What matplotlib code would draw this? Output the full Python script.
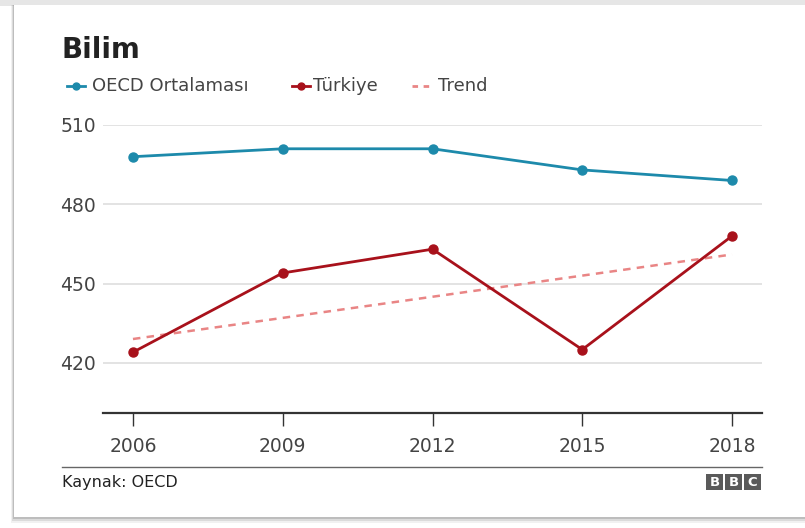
import matplotlib
matplotlib.use("Agg")
import matplotlib.pyplot as plt
from matplotlib.patches import Rectangle
from matplotlib.lines import Line2D

# --- data -------------------------------------------------------------------
years = [2006, 2009, 2012, 2015, 2018]
oecd = [498, 501, 501, 493, 489]
turkiye = [424, 454, 463, 425, 468]
trend_years = [2006, 2018]
trend = [429, 461]
y_ticks = [420, 450, 480, 510]

TEAL = "#1d8aab"
RED = "#a8111b"
TREND = "#e98585"
GREY_TXT = "#444444"

W, H = 805, 528
fig = plt.figure(figsize=(W / 100, H / 100), dpi=100)
fig.patch.set_facecolor("white")


def fx(px):
    return px / W


def fy(py):
    return 1 - py / H


# card with soft shadow
fig.patches.append(Rectangle((0, fy(6)), 1, fy(0) - fy(6), transform=fig.transFigure,
                             facecolor="#e6e6e6", edgecolor="none", zorder=0))
for off, alpha in [(6, 0.10), (4, 0.18), (2, 0.30)]:
    fig.patches.append(Rectangle((fx(14 - off / 2), fy(517 + off)), fx(W), fy(5) - fy(517 + off),
                                 transform=fig.transFigure, facecolor="#7a7a7a",
                                 alpha=alpha, edgecolor="none", zorder=0))
fig.patches.append(Rectangle((fx(14), fy(517)), fx(W), fy(5) - fy(517),
                             transform=fig.transFigure, facecolor="white",
                             edgecolor="none", zorder=1))

ax = fig.add_axes([fx(103), fy(413), fx(762) - fx(103), fy(125) - fy(413)])
ax.set_facecolor("none")
ax.set_zorder(2)

ax.plot(years, oecd, color=TEAL, lw=2, marker="o", ms=6.5, clip_on=False, zorder=3)
ax.plot(years, turkiye, color=RED, lw=2, marker="o", ms=6.5, clip_on=False, zorder=3)
ax.plot(trend_years, trend, color=TREND, lw=1.8, ls=(0, (3, 2.5)), zorder=2)

ax.set_xlim(2005.4, 2018.6)
ax.set_ylim(401, 510)
ax.set_xticks(years)
ax.set_yticks(y_ticks)
ax.grid(axis="y", color="#dedede", lw=1.2)
ax.set_axisbelow(True)
for side in ("left", "right", "top"):
    ax.spines[side].set_visible(False)
ax.spines["bottom"].set_color("#333333")
ax.spines["bottom"].set_linewidth(1.6)
ax.tick_params(axis="x", direction="out", length=9, width=1, color="#333333",
               labelsize=13.5, labelcolor=GREY_TXT, pad=8)
ax.tick_params(axis="y", length=0, labelsize=13.5, labelcolor=GREY_TXT, pad=5)

# title
fig.text(fx(62), fy(50), "Bilim", fontsize=20, fontweight="bold", color="#222222",
         va="center", ha="left", zorder=5)

# legend, placed by hand to follow the original spacing
legend_items = [
    ("OECD Ortalaması", TEAL, "-", "o", 67, 92),
    ("Türkiye", RED, "-", "o", 292, 313),
    ("Trend", TREND, (0, (2, 2)), None, 412, 438),
]
for label, color, ls, marker, x0, xt in legend_items:
    fig.add_artist(Line2D([fx(x0), fx(x0 + 18)], [fy(86), fy(86)], color=color, lw=2,
                          ls=ls, transform=fig.transFigure, zorder=5))
    if marker:
        fig.add_artist(Line2D([fx(x0 + 9)], [fy(86)], color=color, marker=marker, ms=5,
                              transform=fig.transFigure, zorder=6))
    fig.text(fx(xt), fy(86), label, fontsize=13, color=GREY_TXT, va="center",
             ha="left", zorder=5)

# footer
fig.add_artist(Line2D([fx(62), fx(762)], [fy(467), fy(467)], color="#666666", lw=1,
                      transform=fig.transFigure, zorder=5))
fig.text(fx(62), fy(482), "Kaynak: OECD", fontsize=11.5, color="#222222", va="center",
         ha="left", zorder=5)
for i, ch in enumerate("BBC"):
    x0 = 706 + i * 19
    fig.patches.append(Rectangle((fx(x0), fy(490)), fx(17), fy(474) - fy(490),
                                 transform=fig.transFigure, facecolor="#5a5a5a",
                                 edgecolor="none", zorder=5))
    fig.text(fx(x0 + 8.5), fy(482), ch, fontsize=9.5, fontweight="bold", color="white",
             ha="center", va="center", zorder=6)

fig.savefig("out.png", dpi=100, facecolor=fig.get_facecolor())
